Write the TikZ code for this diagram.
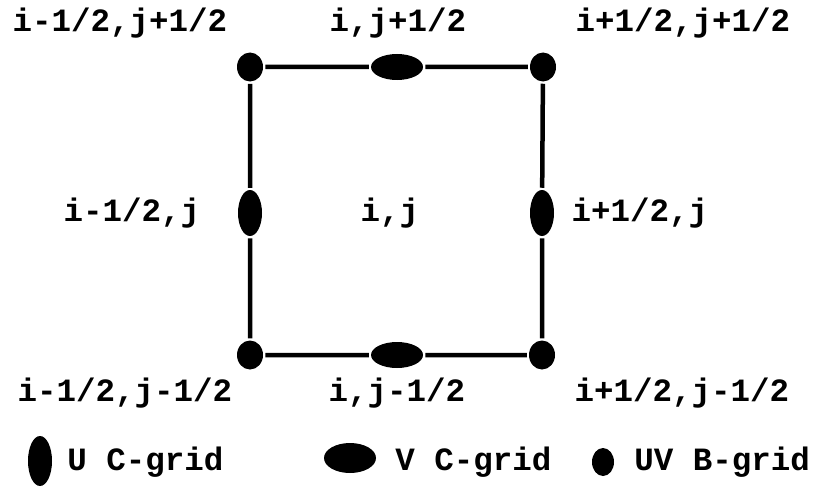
\documentclass[tikz,border=0pt]{standalone}
\usepackage{fontspec}
\setmainfont{Liberation Mono}
\usetikzlibrary{positioning,shapes.geometric}
\tikzset{
  pt/.style={ellipse,fill=black,inner sep=0pt},
  upt/.style={pt,minimum width=24pt,minimum height=46pt},
  vpt/.style={pt,minimum width=52pt,minimum height=26pt},
  bpt/.style={pt,minimum width=26pt,minimum height=29pt},
  lbl/.style={font=\fontsize{32.5}{38}\selectfont\bfseries,inner sep=0pt}
}
\begin{document}
\begin{tikzpicture}[x=1pt,y=-1pt,line width=4.5pt]
  \useasboundingbox (0,0) rectangle (827,487);
  % grid points
  \node[bpt] (tl) at (250,67) {}; \node[vpt] (tm) at (397,67) {}; \node[bpt] (tr) at (543,67) {};
  \node[upt] (ml) at (250,213) {}; \node[upt] (mr) at (542,213) {};
  \node[bpt] (bl) at (250,355) {}; \node[vpt] (bm) at (397,355) {}; \node[bpt] (br) at (542,355) {};
  \draw (tl) -- (tm) -- (tr) -- (mr) -- (br) -- (bm) -- (bl) -- (ml) -- (tl);
  % labels
  \node[lbl] (ltl) at (120,23) {i-1/2,j+1/2};
  \node[lbl] (ltm) at (398,23) {i,j+1/2};
  \node[lbl] (ltr) at (683,23) {i+1/2,j+1/2};
  \node[lbl] (lml) at (132,213) {i-1/2,j};
  \node[lbl] (lc) at (390,213) {i,j};
  \node[lbl] (lmr) at (640,213) {i+1/2,j};
  \node[lbl] (lbl) at (125,393) {i-1/2,j-1/2};
  \node[lbl] (lbm) at (397,393) {i,j-1/2};
  \node[lbl] (lbr) at (682,393) {i+1/2,j-1/2};
  % legend
  \node[pt,minimum width=24pt,minimum height=50pt] (ku) at (40,461) {};
  \node[lbl,anchor=west] (tu) at (65,462) {U C-grid};
  \node[pt,minimum width=52pt,minimum height=30pt] (kv) at (350,458) {};
  \node[lbl,anchor=west] (tv) at (393,462) {V C-grid};
  \node[pt,minimum width=22pt,minimum height=28pt] (kb) at (603,462) {};
  \node[lbl,anchor=west] (tb) at (632,462) {UV B-grid};
\end{tikzpicture}
\end{document}
